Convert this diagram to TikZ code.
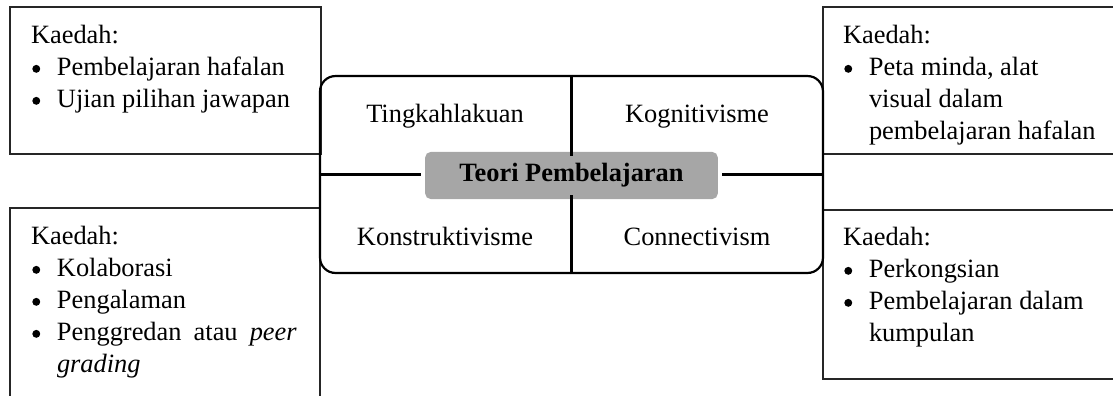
\documentclass[tikz,border=0pt]{standalone}
\usepackage{fontspec}
\setmainfont{Liberation Serif}
\begin{document}
\begin{tikzpicture}[x=0.4545pt,y=-0.4545pt,
  box/.style={draw=black!85,line width=0.9pt},
  txt/.style={inner sep=0pt,outer sep=0pt,font=\fontsize{12}{14}\selectfont},
  lw/.style={txt,anchor=base west},
  lc/.style={txt,anchor=base},
  dot/.style={circle,fill=black,inner sep=0pt,minimum size=3.6pt},
  divider/.style={draw=black,line width=1pt}]
\clip (0,0) rectangle (1113,396);
\newcommand{\bul}[1]{\hspace*{11.8pt}#1}
% side boxes
\draw[box] (10,7) rectangle (321,154);
\draw[box] (10,208) rectangle (320,410);
\draw[box] (823,7) rectangle (1130,154);
\draw[box] (823,210) rectangle (1130,379);
% central frame
\node[draw=black,line width=1pt,rounded corners=7pt,minimum width=228.6pt,minimum height=89.5pt,inner sep=0pt] (frame) at (571.5,174.5) {};
\node[fill=black!35,rounded corners=2.5pt,minimum width=133pt,minimum height=21.4pt,inner sep=0pt,
  font=\fontsize{12}{14}\selectfont\bfseries] (grey) at (571.5,175.5) {Teori Pembelajaran};
\draw[divider] (frame.north) -- ([yshift=-2pt]grey.north);
\draw[divider] (frame.south) -- ([yshift=2pt]grey.south);
\draw[divider] (frame.west) -- ([xshift=-1.5pt]grey.west |- frame.west);
\draw[divider] (frame.east) -- ([xshift=1.5pt]grey.east |- frame.east);
% quadrant labels
\node[lc] (q1) at (445,122) {Tingkahlakuan};
\node[lc] (q2) at (697,122) {Kognitivisme};
\node[lc] (q3) at (445,245) {Konstruktivisme};
\node[lc] (q4) at (697,245) {Connectivism};
% top-left text
\node[lw] (tla) at (31,43) {Kaedah:};
\node[lw] (tlb) at (31,75) {\bul{Pembelajaran hafalan}};
\node[lw] (tlc) at (31,107) {\bul{Ujian pilihan jawapan}};
% bottom-left text
\node[lw] (bla) at (31,244) {Kaedah:};
\node[lw] (blb) at (31,276) {\bul{Kolaborasi}};
\node[lw] (blc) at (31,308) {\bul{Pengalaman}};
\node[lw] (bld) at (31,340) {\bul{\makebox[109pt][s]{Penggredan atau \textit{peer}}}};
\node[lw] (ble) at (57,372) {\textit{grading}};
% top-right text
\node[lw] (tra) at (843,43) {Kaedah:};
\node[lw] (trb) at (843,75) {\bul{Peta minda, alat}};
\node[lw] (trc) at (869,107) {visual dalam};
\node[lw] (trd) at (869,139) {pembelajaran hafalan};
% bottom-right text
\node[lw] (bra) at (843,245) {Kaedah:};
\node[lw] (brb) at (843,277) {\bul{Perkongsian}};
\node[lw] (brc) at (843,309) {\bul{Pembelajaran dalam}};
\node[lw] (brd) at (869,341) {kumpulan};
% bullets
\foreach \n in {tlb,tlc,blb,blc,bld,trb,brb,brc}
  \node[dot] (\n-dot) at ([xshift=2.4pt,yshift=2.8pt]\n.base west) {};
\end{tikzpicture}
\end{document}
